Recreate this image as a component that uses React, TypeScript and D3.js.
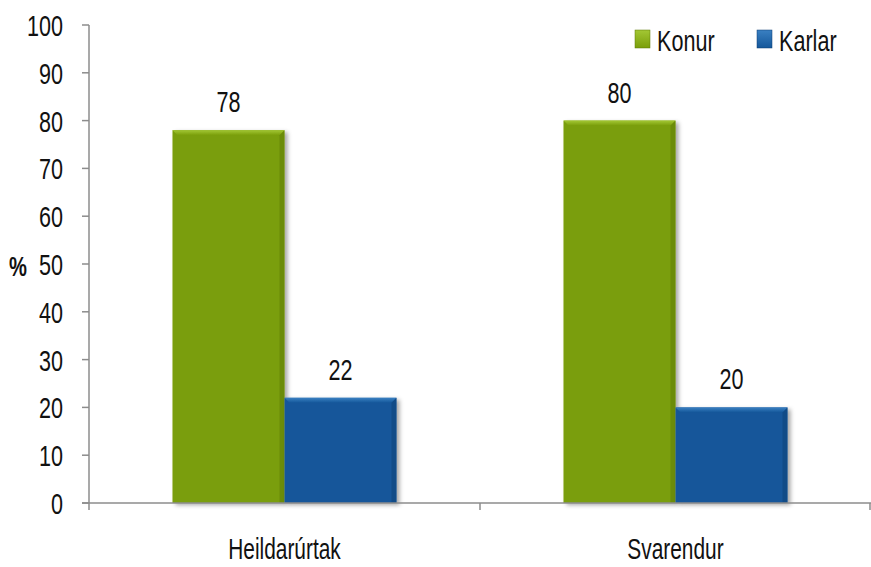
import React from "react";
import * as d3 from "d3";

const categories = ["Heildarúrtak", "Svarendur"];
const seriesNames = ["Konur", "Karlar"];
const konur = [78, 80];
const karlar = [22, 20];
const yTicks = [0, 10, 20, 30, 40, 50, 60, 70, 80, 90, 100];

const W = 871;
const H = 567;
const FONT = "'Liberation Sans', Arial, sans-serif";
const SX = 0.72;
const colors = ["#7a9e0a", "#14579a"];
const light = ["#a3c734", "#3a80c2"];
const dark = ["#5c7a05", "#0c3f73"];

function T(props: { x: number; y: number; anchor?: string; size?: number; bold?: boolean; children: any }) {
  const { x, y, anchor = "start", size = 30, bold = false, children } = props;
  return (
    <text
      transform={`translate(${x},${y}) scale(${SX},1)`}
      textAnchor={anchor}
      fontSize={size}
      fontWeight={bold ? "bold" : "normal"}
      fontFamily={FONT}
      fill="#111"
    >
      {children}
    </text>
  );
}

export default function App() {
  const left = 89, right = 871, top = 25, bottom = 503;
  const x0 = d3.scaleBand<string>().domain(categories).range([left, right]);
  const y = d3.scaleLinear().domain([0, 100]).range([bottom, top]);
  const barW = 112;
  const values = [konur, karlar];

  const bars: any[] = [];
  categories.forEach((c, ci) => {
    const center = (x0(c) as number) + x0.bandwidth() / 2;
    values.forEach((vals, si) => {
      const v = vals[ci];
      const bx = center - barW + si * barW;
      const by = y(v);
      const bh = bottom - by;
      const b = 5;
      bars.push(
        <g key={`${ci}-${si}`}>
          <rect x={bx} y={by} width={barW} height={bh} fill={colors[si]} filter="url(#shadow)" />
          <polygon points={`${bx},${by} ${bx + barW},${by} ${bx + barW - b},${by + b} ${bx + b},${by + b}`} fill={`url(#tg${si})`} />
          <polygon points={`${bx + barW},${by} ${bx + barW - b},${by + b} ${bx + barW - b},${bottom} ${bx + barW},${bottom}`} fill={dark[si]} opacity={0.5} />
          <T x={bx + barW / 2} y={by - 18} anchor="middle">{v}</T>
        </g>
      );
    });
  });

  return (
    <svg width={W} height={H} style={{ position: "absolute", left: 0, top: 0, background: "#fff" }}>
      <defs>
        <filter id="shadow" x="-10%" y="-10%" width="130%" height="130%">
          <feDropShadow dx={3} dy={2} stdDeviation={2} floodColor="#000" floodOpacity={0.35} />
        </filter>
        {[0, 1].map((i) => (
          <linearGradient key={`lg${i}`} id={`lg${i}`} x1="0" y1="0" x2="0" y2="1">
            <stop offset="0" stopColor={light[i]} />
            <stop offset="1" stopColor={colors[i]} />
          </linearGradient>
        ))}
        {[0, 1].map((i) => (
          <linearGradient key={`tg${i}`} id={`tg${i}`} x1="0" y1="0" x2="0" y2="1">
            <stop offset="0" stopColor={light[i]} />
            <stop offset="1" stopColor={colors[i]} />
          </linearGradient>
        ))}
      </defs>
      {bars}
      {/* y axis */}
      <line x1={left} x2={left} y1={top} y2={bottom} stroke="#8c8c8c" strokeWidth={1.5} />
      {yTicks.map((t) => (
        <g key={t}>
          <line x1={left - 7} x2={left} y1={y(t)} y2={y(t)} stroke="#8c8c8c" strokeWidth={1.5} />
          <T x={63} y={y(t) + 11} anchor="end">{t}</T>
        </g>
      ))}
      {/* x axis */}
      <line x1={left - 7} x2={right} y1={bottom} y2={bottom} stroke="#8c8c8c" strokeWidth={1.5} />
      {[left, (x0(categories[1]) as number), right - 1].map((tx, i) => (
        <line key={i} x1={tx} x2={tx} y1={bottom} y2={bottom + 7} stroke="#8c8c8c" strokeWidth={1.5} />
      ))}
      {categories.map((c) => (
        <T key={c} x={(x0(c) as number) + x0.bandwidth() / 2} y={559} anchor="middle" size={29}>{c}</T>
      ))}
      <T x={18} y={276} anchor="middle" size={28} bold>%</T>
      {/* legend */}
      {seriesNames.map((s, i) => {
        const lx = [635, 757][i];
        return (
          <g key={s}>
            <rect x={lx} y={30} width={15} height={18} fill={`url(#lg${i})`} stroke={dark[i]} strokeWidth={0.5} />
            <T x={lx + 22} y={51}>{s}</T>
          </g>
        );
      })}
    </svg>
  );
}
